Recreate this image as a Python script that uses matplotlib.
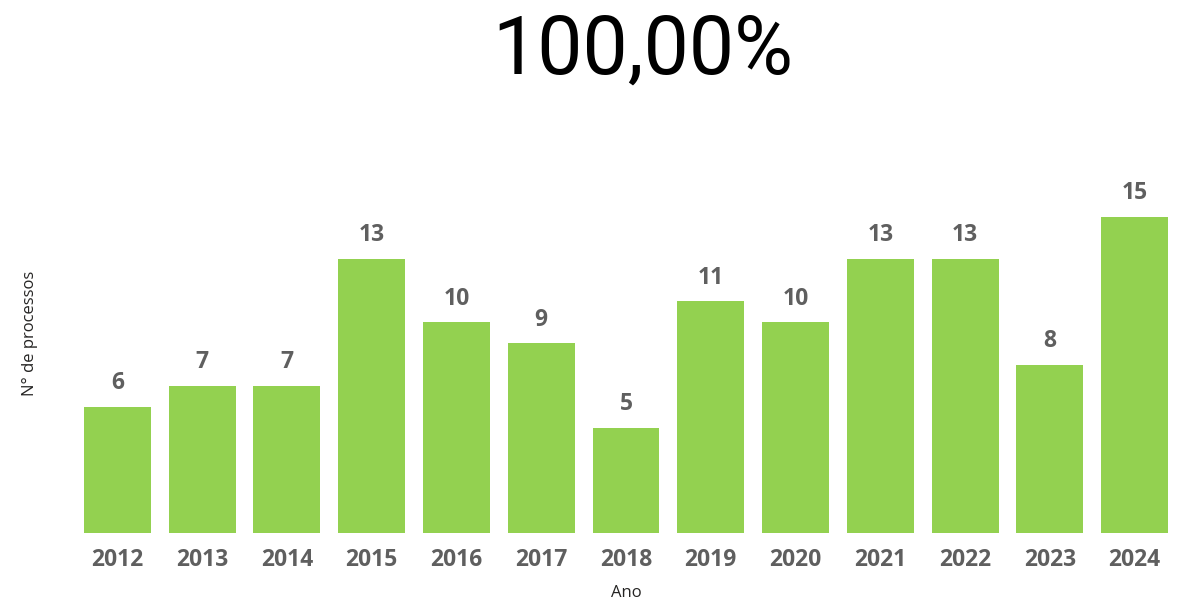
import matplotlib.pyplot as plt

anos = ['2012', '2013', '2014', '2015', '2016', '2017', '2018',
        '2019', '2020', '2021', '2022', '2023', '2024']
processos = [6, 7, 7, 13, 10, 9, 5, 11, 10, 13, 13, 8, 15]
titulo = '100,00%'

plt.rcParams['font.family'] = ['Open Sans', 'DejaVu Sans']

fig = plt.figure(figsize=(11.78, 6.06), dpi=100)
ax = fig.add_axes([75 / 1178, 73 / 606, 1102 / 1178, 337 / 606])

x = range(len(anos))
bars = ax.bar(x, processos, width=0.79, color='#93D150')
ax.bar_label(bars, labels=[str(v) for v in processos], padding=8.5,
             fontsize=16.5, fontweight='bold', color='#5f5f5f')

ax.set_xlim(-0.5, len(anos) - 0.5)
ax.set_ylim(0, 16)
ax.set_xticks(list(x))
ax.set_xticklabels(anos, fontsize=16.5, fontweight='bold', color='#5f5f5f')
ax.tick_params(axis='x', length=0, pad=10.5)
ax.set_yticks([])
for s in ax.spines.values():
    s.set_visible(False)

ax.set_xlabel('Ano', fontsize=12, color='#252423', labelpad=10)

# rótulo do eixo y posicionado como no original
fig.text(30 / 1178, 1 - 333 / 606, 'N° de processos', rotation=90,
         ha='center', va='center', fontsize=12, color='#252423')

fig.text(643 / 1178, 1 - 52 / 606, titulo, ha='center', va='center',
         fontsize=58, family='Roboto', color='#000000')

fig.savefig('out.png', dpi=100)
